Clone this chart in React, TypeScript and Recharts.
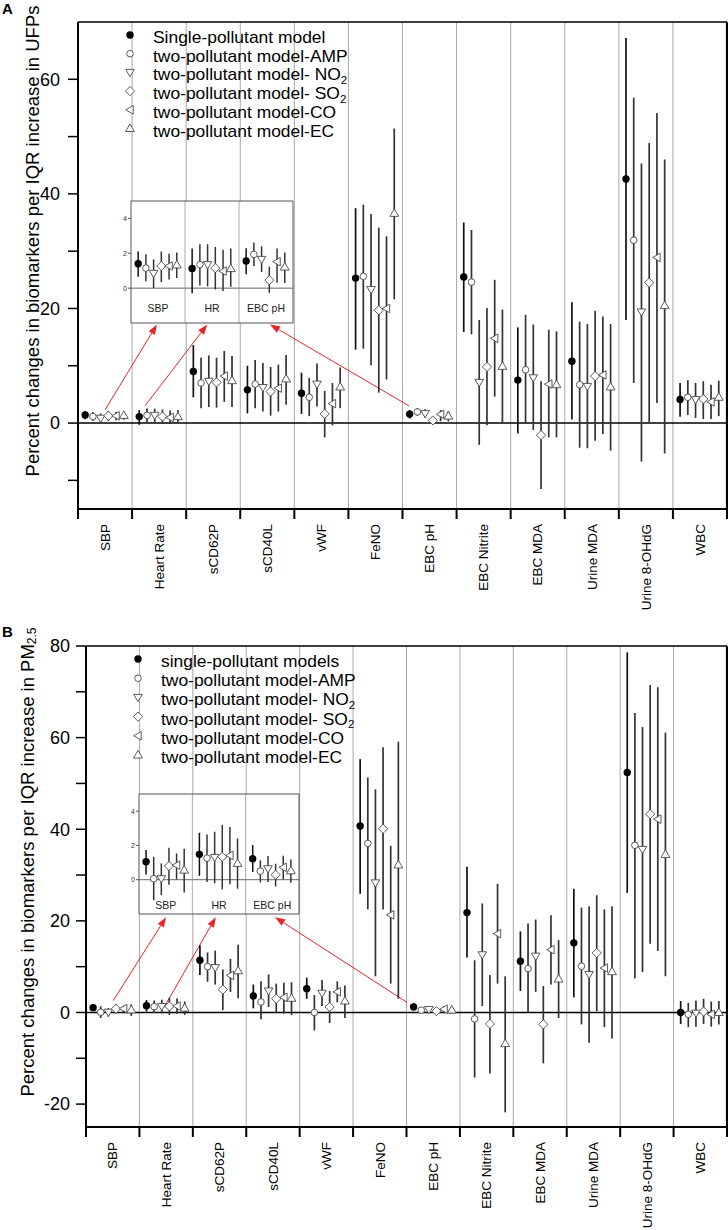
import { ScatterChart, Scatter, XAxis, YAxis, ErrorBar, ReferenceLine, CartesianGrid, Legend } from 'recharts';

const categories = ['SBP', 'Heart Rate', 'sCD62P', 'sCD40L', 'vWF', 'FeNO', 'EBC pH', 'EBC Nitrite', 'EBC MDA', 'Urine MDA', 'Urine 8-OHdG', 'WBC'];
const insetCategories = ['SBP', 'HR', 'EBC pH'];
const insetIndex = [0, 1, 6];
const seriesKeys = ['single', 'amp', 'no2', 'so2', 'co', 'ec'];

const ufpLabels = ['Single-pollutant model', 'two-pollutant model-AMP', 'two-pollutant model- NO2', 'two-pollutant model- SO2', 'two-pollutant model-CO', 'two-pollutant model-EC'];
const pmLabels = ['single-pollutant models', 'two-pollutant model-AMP', 'two-pollutant model- NO2', 'two-pollutant model- SO2', 'two-pollutant model-CO', 'two-pollutant model-EC'];

// panel A: % change per IQR increase in UFPs (estimate, lower, upper)
const ufpSingle = [1.4, 1.13, 9.0, 5.8, 5.2, 25.3, 1.56, 25.5, 7.5, 10.8, 42.6, 4.1];
const ufpSingleLo = [0.65, -0.3, 4.5, 1.7, 1.6, 12.8, 0.79, 15.9, -1.8, 0.6, 18.0, 1.1];
const ufpSingleHi = [2.1, 2.27, 13.6, 10.0, 8.8, 37.5, 2.29, 35.0, 16.7, 21.1, 67.2, 7.0];
const ufpAmp = [1.15, 1.35, 7.0, 6.8, 4.5, 25.6, 1.94, 24.6, 9.3, 6.7, 31.9, 4.5];
const ufpAmpLo = [0.4, 0.15, 2.6, 2.6, 1.2, 13.0, 1.27, 15.5, 0.1, -4.3, 7.0, 1.4];
const ufpAmpHi = [1.94, 2.52, 11.4, 11.0, 7.9, 38.1, 2.62, 33.7, 18.9, 17.7, 56.8, 7.5];
const ufpNo2 = [0.85, 1.35, 7.3, 6.2, 6.8, 23.3, 1.65, 7.1, 7.9, 6.4, 19.4, 4.1];
const ufpNo2Lo = [0.0, 0.1, 2.8, 2.0, 2.9, 10.1, 0.92, -3.8, -1.2, -4.4, -6.7, 0.9];
const ufpNo2Hi = [1.65, 2.52, 11.8, 10.5, 10.4, 36.5, 2.4, 18.0, 17.2, 17.3, 45.3, 7.0];
const ufpSo2 = [1.27, 1.15, 7.1, 5.5, 1.6, 19.7, 0.46, 9.8, -2.1, 8.2, 24.5, 4.2];
const ufpSo2Lo = [0.35, -0.08, 2.7, 1.3, -2.5, 5.3, -0.27, -0.4, -11.5, -3.1, 0.0, 0.7];
const ufpSo2Hi = [2.1, 2.37, 11.4, 9.8, 5.6, 34.1, 1.23, 20.1, 7.3, 19.6, 48.9, 7.3];
const ufpCo = [1.27, 0.98, 8.2, 6.1, 3.4, 20.0, 1.52, 14.8, 6.8, 8.4, 28.9, 3.7];
const ufpCoLo = [0.5, -0.17, 3.7, 2.0, -0.4, 7.6, 0.31, 4.6, -2.5, -1.9, 3.5, 0.7];
const ufpCoHi = [1.98, 2.2, 12.6, 10.2, 7.0, 32.6, 2.27, 25.0, 16.3, 18.6, 54.1, 6.7];
const ufpEc = [1.33, 1.12, 7.4, 7.7, 6.3, 36.6, 1.21, 9.9, 6.7, 6.3, 20.5, 4.5];
const ufpEcLo = [0.58, 0.08, 2.8, 3.2, 2.6, 21.6, 0.29, 0.0, -2.5, -4.8, -5.3, 1.2];
const ufpEcHi = [2.04, 2.27, 11.7, 11.9, 9.7, 51.4, 2.04, 19.8, 16.0, 17.3, 46.0, 7.4];

// panel B: % change per IQR increase in PM2.5
const pmSingle = [1.05, 1.48, 11.4, 3.6, 5.2, 40.7, 1.22, 21.8, 11.2, 15.2, 52.4, 0.0];
const pmSingleLo = [0.3, 0.23, 8.2, 0.9, 3.0, 25.9, 0.45, 12.0, 4.7, 3.3, 26.1, -2.5];
const pmSingleHi = [1.73, 2.74, 14.7, 6.1, 7.6, 55.3, 2.02, 31.8, 17.7, 27.0, 78.6, 2.5];
const pmAmp = [0.06, 1.26, 10.0, 2.3, 0.0, 36.9, 0.5, -1.4, 9.6, 10.1, 36.5, -0.4];
const pmAmpLo = [-1.2, -0.14, 6.7, -1.5, -3.9, 22.5, -0.16, -14.2, 0.1, -2.6, 7.4, -3.2];
const pmAmpHi = [1.34, 2.64, 13.1, 6.8, 3.8, 51.3, 1.13, 11.4, 19.4, 22.9, 65.4, 2.1];
const pmNo2 = [0.06, 1.3, 9.8, 4.7, 4.2, 28.3, 0.64, 12.6, 12.3, 8.3, 35.6, -0.15];
const pmNo2Lo = [-0.9, -0.2, 6.1, 1.2, 1.4, 7.9, -0.14, 1.4, 4.5, -6.6, 8.8, -3.1];
const pmNo2Hi = [0.95, 2.8, 13.5, 8.3, 7.1, 48.7, 1.38, 23.8, 20.3, 23.2, 62.3, 2.6];
const pmSo2 = [0.8, 1.34, 5.0, 3.0, 1.2, 40.1, 0.29, -2.5, -2.6, 13.0, 43.3, 0.2];
const pmSo2Lo = [-0.3, -0.56, 0.5, -0.1, -2.3, 22.5, -0.39, -13.3, -11.1, 0.3, 15.0, -2.5];
const pmSo2Hi = [1.86, 3.2, 9.4, 6.3, 4.7, 57.9, 0.93, 8.2, 5.8, 25.6, 71.5, 3.0];
const pmCo = [0.85, 1.42, 8.1, 3.3, 4.5, 21.3, 0.72, 17.2, 13.7, 9.7, 42.2, -0.4];
const pmCoLo = [0.02, -0.27, 4.5, -0.2, 2.2, 6.3, 0.02, 6.3, 6.1, -3.2, 13.4, -3.1];
const pmCoHi = [1.53, 3.07, 11.7, 6.5, 6.8, 36.4, 1.4, 28.1, 21.2, 22.5, 71.0, 2.4];
const pmEc = [0.56, 0.95, 9.1, 3.1, 2.5, 32.2, 0.52, -6.8, 7.3, 8.9, 34.5, 0.0];
const pmEcLo = [-0.75, -0.52, 3.1, -0.6, -1.2, 3.0, -0.17, -21.8, -1.2, -5.7, 7.9, -2.6];
const pmEcHi = [1.8, 2.41, 14.8, 6.6, 5.9, 59.1, 1.18, 7.9, 15.8, 23.2, 61.1, 2.5];

const ufpTicks = [-10, 0, 10, 20, 30, 40, 50, 60];
const pmTicks = [-20, -10, 0, 10, 20, 30, 40, 50, 60, 70, 80];

// arrows from the small markers up to the zoomed inset (data coords)
const ufpArrows = [
  [{ x: 0.5, y: 2.3 }, { x: 1.46, y: 17.2 }],
  [{ x: 1.24, y: 3.0 }, { x: 2.39, y: 17.2 }],
  [{ x: 6.12, y: 3.0 }, { x: 3.55, y: 17.2 }],
];
const pmArrows = [
  [{ x: 0.51, y: 2.6 }, { x: 1.5, y: 20.8 }],
  [{ x: 1.46, y: 1.1 }, { x: 2.43, y: 20.8 }],
  [{ x: 6.01, y: 2.2 }, { x: 3.54, y: 20.8 }],
];

const boundaries = [1, 2, 3, 4, 5, 6, 7, 8, 9, 10, 11];
const xTicks = Array.from({ length: 25 }, (_, i) => i / 2);

function makeSeries(est: number[], lo: number[], hi: number[], j: number, idx: number[]) {
  return idx.map((i, k) => ({
    x: k + 0.49 + (j - 2.5) * 0.143,
    y: est[i],
    err: [est[i] - lo[i], hi[i] - est[i]],
  }));
}

function Marker({ cx, cy, kind }: any) {
  if (cx == null || cy == null) return null;
  const st = { fill: '#fff', stroke: '#4a4a4a', strokeWidth: 0.9 };
  switch (kind) {
    case 'single':
      return <circle cx={cx} cy={cy} r={3.7} fill="#000" />;
    case 'amp':
      return <circle cx={cx} cy={cy} r={3.3} {...st} />;
    case 'no2':
      return <polygon points={`${cx - 4.3},${cy - 3} ${cx + 4.3},${cy - 3} ${cx},${cy + 4.2}`} {...st} />;
    case 'so2':
      return <polygon points={`${cx},${cy - 4.6} ${cx + 4.6},${cy} ${cx},${cy + 4.6} ${cx - 4.6},${cy}`} {...st} />;
    case 'co':
      return <polygon points={`${cx - 4.3},${cy} ${cx + 3.2},${cy - 4.3} ${cx + 3.2},${cy + 4.3}`} {...st} />;
    default:
      return <polygon points={`${cx},${cy - 4.6} ${cx + 4.4},${cy + 3} ${cx - 4.4},${cy + 3}`} {...st} />;
  }
}

function labelText(s: string) {
  if (s.endsWith('O2')) {
    return (
      <>
        {s.slice(0, -1)}
        <tspan dy={3.5} fontSize={10.5}>2</tspan>
      </>
    );
  }
  return s;
}

function LegendBox({ payload, labels, gap }: any) {
  const names: string[] = payload && payload.length
    ? payload.map((p: any) => p.value).sort((a: string, b: string) => labels.indexOf(a) - labels.indexOf(b))
    : labels;
  return (
    <svg width={300} height={gap * 6 + 8}>
      {names.map((n, i) => {
        const cy = 9 + i * gap;
        return (
          <g key={n}>
            <Marker cx={10} cy={cy} kind={seriesKeys[labels.indexOf(n)]} />
            <text transform={`translate(33 ${cy}) scale(1.09 1)`} x={0} y={0} dy="0.5em" fontSize={16} fill="#000">
              {labelText(n)}
            </text>
          </g>
        );
      })}
    </svg>
  );
}

function Arrow(p: any) {
  const { x1, y1, x2, y2 } = p;
  const a = Math.atan2(y2 - y1, x2 - x1);
  const L = 10;
  const W = 3.6;
  const bx = x2 - L * Math.cos(a);
  const by = y2 - L * Math.sin(a);
  const pts = `${x2},${y2} ${bx - W * Math.sin(a)},${by + W * Math.cos(a)} ${bx + W * Math.sin(a)},${by - W * Math.cos(a)}`;
  return (
    <g>
      <line x1={x1} y1={y1} x2={bx} y2={by} stroke="#e8242a" strokeWidth={1} />
      <polygon points={pts} fill="#e8242a" />
    </g>
  );
}

function CategoryTick(props: any) {
  const { x, y, payload } = props;
  const v = payload.value;
  if (Number.isInteger(v)) {
    return <line x1={x} y1={y} x2={x} y2={y + 10} stroke="#000" strokeWidth={2} />;
  }
  const ty = y + 15;
  return (
    <text x={x} y={ty} transform={`rotate(-90 ${x} ${ty})`} textAnchor="end" dy="0.35em" fontSize={13.5} fill="#000">
      {categories[Math.floor(v)]}
    </text>
  );
}

function Inset({ est, lo, hi, left, top, width, height, lift }: any) {
  return (
    <div style={{ position: 'absolute', left, top }}>
      <ScatterChart width={width} height={height} margin={{ top: 1, right: 1, left: 0, bottom: 0 }}>
        <CartesianGrid horizontal={false} vertical={false} fill="#fff" />
        <ReferenceLine x={1} stroke="#aaa" />
        <ReferenceLine x={2} stroke="#aaa" />
        <ReferenceLine y={0} stroke="#666" />
        <ReferenceLine y={5} stroke="#555" />
        <ReferenceLine x={3} stroke="#555" />
        <XAxis
          type="number"
          dataKey="x"
          domain={[0, 3]}
          ticks={[0.5, 1.5, 2.5]}
          interval={0}
          tickSize={0}
          tickMargin={0}
          height={2}
          axisLine={{ stroke: '#555', strokeWidth: 1 }}
          tick={(p: any) => (
            <text x={p.x} y={p.y - lift} dy="0.35em" textAnchor="middle" fontSize={10.5} fill="#222">
              {insetCategories[Math.floor(p.payload.value)]}
            </text>
          )}
          allowDataOverflow
        />
        <YAxis
          type="number"
          dataKey="y"
          domain={[-2, 5]}
          ticks={[-2, 0, 2, 4]}
          width={14}
          tickSize={3}
          tickMargin={1}
          tick={{ fontSize: 7, fill: '#333' }}
          axisLine={{ stroke: '#555' }}
          tickLine={{ stroke: '#555' }}
          allowDataOverflow
        />
        {seriesKeys.map((k, j) => (
          <Scatter
            key={k}
            data={makeSeries(est[j], lo[j], hi[j], j, insetIndex)}
            isAnimationActive={false}
            shape={(p: any) => <Marker cx={p.cx} cy={p.cy} kind={k} />}
          >
            <ErrorBar dataKey="err" direction="y" width={0} stroke={j === 0 ? '#111' : '#333'} strokeWidth={1.5} isAnimationActive={false} />
          </Scatter>
        ))}
      </ScatterChart>
    </div>
  );
}

function EffectPanel({ cfg }: any) {
  const all = categories.map((_, i) => i);
  const [dMin, dMax] = cfg.domain;
  return (
    <div style={{ position: 'absolute', left: 0, top: cfg.top }}>
      <ScatterChart width={728} height={cfg.height} margin={{ top: cfg.marginTop, right: 1, left: 0, bottom: 0 }}>
        {boundaries.map((b) => (
          <ReferenceLine key={b} x={b} stroke="#a8a8a8" strokeWidth={1} />
        ))}
        <ReferenceLine y={0} stroke="#000" strokeWidth={1.6} />
        <ReferenceLine y={dMax} stroke="#000" strokeWidth={1.6} />
        <ReferenceLine x={12} stroke="#000" strokeWidth={2.2} />
        <XAxis
          type="number"
          dataKey="x"
          domain={[0, 12]}
          ticks={xTicks}
          interval={0}
          tickSize={0}
          tickMargin={0}
          height={cfg.xAxisHeight}
          axisLine={{ stroke: '#000', strokeWidth: 2 }}
          tick={(p: any) => <CategoryTick {...p} />}
          allowDataOverflow
        />
        <YAxis
          type="number"
          dataKey="y"
          domain={[dMin, dMax]}
          ticks={cfg.ticks}
          tickFormatter={(v: number) => (v % 20 === 0 ? String(v) : '')}
          width={cfg.yAxisWidth}
          tickSize={10}
          tickMargin={cfg.tickMargin}
          tick={{ fontSize: 18, fill: '#000' }}
          axisLine={{ stroke: '#000', strokeWidth: 2 }}
          tickLine={{ stroke: '#000', strokeWidth: 1.5 }}
          allowDataOverflow
        />
        {cfg.arrows.map((seg: any, i: number) => (
          <ReferenceLine key={`arrow-${i}`} segment={seg} shape={(p: any) => <Arrow {...p} />} />
        ))}
        {seriesKeys.map((k, j) => (
          <Scatter
            key={k}
            name={cfg.labels[j]}
            data={makeSeries(cfg.est[j], cfg.lo[j], cfg.hi[j], j, all)}
            isAnimationActive={false}
            shape={(p: any) => <Marker cx={p.cx} cy={p.cy} kind={k} />}
          >
            <ErrorBar dataKey="err" direction="y" width={0} stroke={j === 0 ? '#111' : '#333'} strokeWidth={1.7} isAnimationActive={false} />
          </Scatter>
        ))}
        <Legend
          layout="vertical"
          align="center"
          verticalAlign="middle"
          wrapperStyle={{ left: cfg.legendLeft, top: cfg.legendTop, width: 300 }}
          content={(p: any) => <LegendBox payload={p.payload} labels={cfg.labels} gap={cfg.legendGap} />}
        />
        <text x={2} y={cfg.letterY} fontSize={15} fontWeight="bold" fill="#000">{cfg.letter}</text>
        <text
          x={cfg.titleX}
          y={cfg.titleY}
          transform={`rotate(-90 ${cfg.titleX} ${cfg.titleY})`}
          textAnchor="middle"
          dominantBaseline="central"
          fontSize={18.5}
          fill="#000"
        >
          {cfg.title}
        </text>
      </ScatterChart>
    </div>
  );
}

const panelA = {
  top: 0,
  height: 616,
  marginTop: 22,
  xAxisHeight: 107,
  yAxisWidth: 78,
  tickMargin: 8,
  domain: [-15, 70],
  ticks: ufpTicks,
  labels: ufpLabels,
  est: [ufpSingle, ufpAmp, ufpNo2, ufpSo2, ufpCo, ufpEc],
  lo: [ufpSingleLo, ufpAmpLo, ufpNo2Lo, ufpSo2Lo, ufpCoLo, ufpEcLo],
  hi: [ufpSingleHi, ufpAmpHi, ufpNo2Hi, ufpSo2Hi, ufpCoHi, ufpEcHi],
  arrows: ufpArrows,
  legendLeft: 120,
  legendTop: 26,
  legendGap: 18.7,
  letter: 'A',
  letterY: 14,
  titleX: 32,
  titleY: 241,
  title: 'Percent changes in biomarkers per IQR increase in UFPs',
};

const panelB = {
  top: 600,
  height: 630,
  marginTop: 46,
  xAxisHeight: 103,
  yAxisWidth: 86,
  tickMargin: 6,
  domain: [-25, 80],
  ticks: pmTicks,
  labels: pmLabels,
  est: [pmSingle, pmAmp, pmNo2, pmSo2, pmCo, pmEc],
  lo: [pmSingleLo, pmAmpLo, pmNo2Lo, pmSo2Lo, pmCoLo, pmEcLo],
  hi: [pmSingleHi, pmAmpHi, pmNo2Hi, pmSo2Hi, pmCoHi, pmEcHi],
  arrows: pmArrows,
  legendLeft: 128,
  legendTop: 50,
  legendGap: 19.2,
  letter: 'B',
  letterY: 37,
  titleX: 27,
  titleY: 262,
  title: (
    <>
      Percent changes in biomarkers per IQR increase in PM
      <tspan dy={5} fontSize={12}>2.5</tspan>
    </>
  ),
};

export default function App() {
  return (
    <div
      style={{
        position: 'absolute',
        left: 0,
        top: 0,
        width: 728,
        height: 1230,
        background: '#fff',
        fontFamily: "'Liberation Sans', Arial, sans-serif",
      }}
    >
      <EffectPanel cfg={panelA} />
      <EffectPanel cfg={panelB} />
      <Inset est={panelA.est} lo={panelA.lo} hi={panelA.hi} left={117} top={200} width={177} height={125} lift={15} />
      <Inset est={panelB.est} lo={panelB.lo} hi={panelB.hi} left={125} top={793} width={175} height={123} lift={9} />
    </div>
  );
}
